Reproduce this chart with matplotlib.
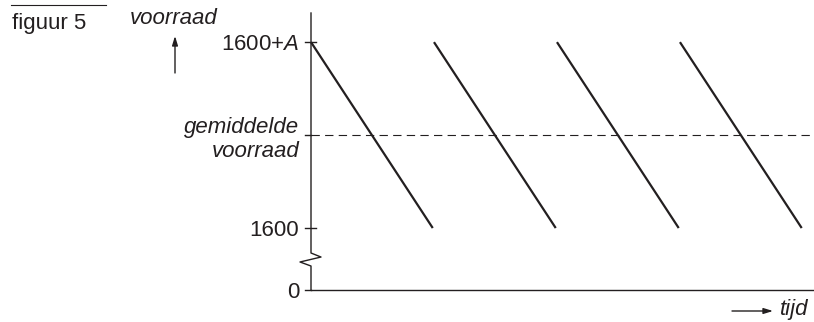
import matplotlib
matplotlib.use("Agg")
import matplotlib.pyplot as plt

# schematic levels (chart units): 0, 1600 and 1600+A
level_zero = 0.0
level_low = 1.0      # "1600"
level_high = 4.0     # "1600+A"
level_mean = (level_low + level_high) / 2

# order moments (start of each cycle) and length of a cycle
cycle_starts = [0, 1, 2, 3]
cycle_length = 0.99

tick_values = [level_zero, level_low, level_mean, level_high]
tick_labels = ["0", "1600", "gemiddelde\nvoorraad", "1600+$\\mathit{A}$"]

ink = "#231f20"
plt.rcParams["font.family"] = ["Liberation Sans", "DejaVu Sans"]
plt.rcParams["mathtext.fontset"] = "custom"
plt.rcParams["mathtext.rm"] = "Liberation Sans"
plt.rcParams["mathtext.it"] = "Liberation Sans:italic"
plt.rcParams["lines.scale_dashes"] = False

W, H = 814, 322
fs = 16
fig = plt.figure(figsize=(W / 100, H / 100), dpi=100)
ax = fig.add_axes([311 / W, 32 / H, (W - 311) / W, 277 / H])
ax.set_xlim(0, 4.09)
ax.set_ylim(0, 4.47)

# sawtooth of the stock
for s in cycle_starts:
    ax.plot([s, s + cycle_length], [level_high, level_low], color=ink, lw=1.6,
            solid_capstyle="butt", clip_on=False)

# average stock
ax.axhline(level_mean, color=ink, lw=0.8, dashes=(6, 3.8))

# axes lines
for side in ["top", "right", "left"]:
    ax.spines[side].set_visible(False)
ax.spines["bottom"].set_color(ink)
ax.spines["bottom"].set_linewidth(1.0)

# y axis with a break (zigzag) between 0 and 1600
ytr = ax.get_yaxis_transform()
px = 1 / (W - 311)
ax.plot([0, 0, -11 * px, 10 * px, 0, 0],
        [0, 0.387, 0.452, 0.532, 0.597, 4.47],
        transform=ytr, color=ink, lw=1.0, clip_on=False)

# tick marks: outward at every level, through the axis at 1600 and 1600+A
for v in tick_values:
    right = 5 * px if v in (level_low, level_high) else 0
    ax.plot([-6 * px, right], [v, v], transform=ytr, color=ink, lw=1.0, clip_on=False)

ax.set_xticks([])
ax.set_yticks(tick_values)
ax.set_yticklabels(tick_labels, fontsize=fs)
ax.tick_params(axis="y", length=0, pad=8.5, labelcolor=ink)
ax.get_yticklabels()[2].set_style("italic")

# texts outside the axes
fig.add_artist(plt.Line2D([11 / W, 106 / W], [1 - 5 / H, 1 - 5 / H], color=ink, lw=0.8))
fig.text(12 / W, 1 - 24 / H, "figuur 5", fontsize=fs, color=ink, va="center", ha="left")
fig.text(130 / W, 1 - 19 / H, "voorraad", fontsize=fs, style="italic", color=ink,
         va="center", ha="left")
ax.annotate("", xy=(175 / W, 1 - 36 / H), xytext=(175 / W, 1 - 73 / H),
            xycoords="figure fraction",
            arrowprops=dict(arrowstyle="-|>,head_length=0.55,head_width=0.17",
                            color=ink, lw=1.0, shrinkA=0, shrinkB=0))
ax.annotate("", xy=(773 / W, 1 - 311 / H), xytext=(732 / W, 1 - 311 / H),
            xycoords="figure fraction",
            arrowprops=dict(arrowstyle="-|>,head_length=0.55,head_width=0.17",
                            color=ink, lw=1.0, shrinkA=0, shrinkB=0))
fig.text(780 / W, 1 - 309 / H, "tijd", fontsize=fs, style="italic", color=ink,
         va="center", ha="left")

fig.savefig("out.png", dpi=100)
